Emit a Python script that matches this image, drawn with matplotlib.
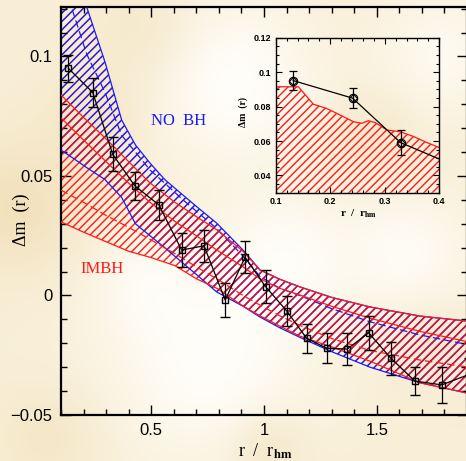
import numpy as np
import matplotlib
matplotlib.use("Agg")
import matplotlib.pyplot as plt
from matplotlib.ticker import MultipleLocator

plt.rcParams['mathtext.fontset'] = 'stix'
plt.rcParams['hatch.linewidth'] = 1.0

# ---------------- data ----------------
r_obs = [0.132, 0.241, 0.329, 0.427, 0.534, 0.635, 0.734, 0.828, 0.916, 1.007,
         1.100, 1.189, 1.278, 1.369, 1.464, 1.563, 1.669, 1.788, 1.910]
dm_obs = [0.0951, 0.0849, 0.0591, 0.0459, 0.0379, 0.0190, 0.0208, -0.0019, 0.0160, 0.0037,
          -0.0064, -0.0179, -0.0221, -0.0224, -0.0156, -0.0263, -0.0358, -0.0374, -0.0330]
dm_err = [0.0057, 0.0059, 0.0072, 0.0059, 0.0063, 0.0070, 0.0067, 0.0071, 0.0067, 0.0070,
          0.0063, 0.0061, 0.0063, 0.0067, 0.0071, 0.0070, 0.0059, 0.0075, 0.0070]

# NO BH model band (blue)
r_nobh = [0.10, 0.214, 0.295, 0.369, 0.43, 0.4945, 0.56, 0.641, 0.71, 0.790, 0.907, 0.982,
          1.07, 1.159, 1.30, 1.470, 1.691, 1.90]
nobh_hi = [0.153, 0.1207, 0.0977, 0.0734, 0.063, 0.0554, 0.0485, 0.0420, 0.0365, 0.0303, 0.0190, 0.0107,
           0.0068, 0.0036, -0.0008, -0.0048, -0.0086, -0.0107]
nobh_mid = [0.134, 0.101, 0.0850, 0.0670, 0.0600, 0.0525, 0.0470, 0.0400, 0.0345, 0.0280, 0.0165, 0.0080,
            0.0030, 0.0000, -0.0055, -0.0110, -0.0165, -0.0205]
nobh_lo = [0.0609, 0.0535, 0.0485, 0.0410, 0.0300, 0.0250, 0.0200, 0.0135, 0.0080, 0.0015, -0.0045, -0.0090,
           -0.0135, -0.0175, -0.0235, -0.0300, -0.0365, -0.0408]

# IMBH model band (red)
r_imbh = [0.10, 0.20, 0.30, 0.40, 0.4945, 0.605, 0.70, 0.791, 0.907, 0.982, 1.07, 1.159,
          1.30, 1.470, 1.691, 1.90]
imbh_hi = [0.0839, 0.0745, 0.0655, 0.0560, 0.0471, 0.0390, 0.0330, 0.0275, 0.0185, 0.0107, 0.0068, 0.0036,
           -0.0008, -0.0048, -0.0086, -0.0107]
imbh_in1 = [0.0743, 0.0650, 0.0560, 0.0470, 0.0390, 0.0310, 0.0250, 0.0190, 0.0120, 0.0070, 0.0030, 0.0002,
            -0.0045, -0.0095, -0.0150, -0.0193]
imbh_in2 = [0.0441, 0.0390, 0.0335, 0.0285, 0.0235, 0.0175, 0.0120, 0.0070, 0.0000, -0.0040, -0.0085, -0.0125,
            -0.0180, -0.0230, -0.0270, -0.0299]
imbh_lo = [0.0308, 0.0265, 0.0225, 0.0185, 0.0160, 0.0125, 0.0070, 0.0030, -0.0044, -0.0085, -0.0128, -0.0170,
           -0.0215, -0.0275, -0.0365, -0.0408]

# inset: finer IMBH model upper edge
r_ins = [0.10, 0.1416, 0.169, 0.1937, 0.2182, 0.2427, 0.258, 0.270, 0.2825, 0.304, 0.3284, 0.353, 0.3774, 0.40]
ins_hi = [0.0915, 0.0915, 0.0814, 0.0789, 0.0751, 0.0712, 0.0703, 0.0718, 0.0707, 0.0664, 0.0654, 0.0626, 0.0591, 0.0562]

main_xticks = [0.5, 1.0, 1.5]
main_xticklabels = ['0.5', '1', '1.5']
main_yticks = [-0.05, 0.0, 0.05, 0.1]
main_yticklabels = ['\u22120.05', '0', '0.05', '0.1']
ins_xticks = [0.1, 0.2, 0.3, 0.4]
ins_yticks = [0.04, 0.06, 0.08, 0.1, 0.12]
ins_yticklabels = ['0.04', '0.06', '0.08', '0.1', '0.12']

# ---------------- figure ----------------
W, H = 466, 461
fig = plt.figure(figsize=(W / 100, H / 100), dpi=100)

# background texture (smooth cream/white blobs)
bg = fig.add_axes([0, 0, 1, 1])
bg.set_axis_off()
yy, xx = np.mgrid[0:1:240j, 0:1:240j]
base = np.array([249, 239, 215]) / 255.0
light = np.array([255, 254, 250]) / 255.0
dark = np.array([241, 224, 186]) / 255.0
wl = np.zeros_like(xx)
for cx, cy, s, a in [(0.45, 0.78, 0.16, 1.0), (0.50, 0.18, 0.13, 1.0), (0.88, 0.55, 0.10, 0.8),
                     (0.95, 0.12, 0.10, 0.7), (0.62, 0.55, 0.10, 0.7), (0.30, 0.60, 0.08, 0.5)]:
    wl += a * np.exp(-((xx - cx) ** 2 + (yy - cy) ** 2) / (2 * s ** 2))
wd = np.zeros_like(xx)
for cx, cy, s, a in [(0.03, 0.45, 0.10, 0.9), (0.10, 0.95, 0.08, 0.5), (0.58, 0.98, 0.06, 0.5),
                     (0.80, 0.30, 0.07, 0.4), (0.30, 0.06, 0.08, 0.4), (0.92, 0.75, 0.06, 0.4),
                     (0.20, 0.25, 0.08, 0.5)]:
    wd += a * np.exp(-((xx - cx) ** 2 + (yy - cy) ** 2) / (2 * s ** 2))
wl = np.clip(wl, 0, 1)[..., None]
wd = np.clip(wd, 0, 1)[..., None]
img = base * (1 - wl) + light * wl
img = img * (1 - wd) + dark * wd
bg.imshow(img, origin='upper', extent=[0, 1, 0, 1], aspect='auto', interpolation='bilinear')
bg.set_xlim(0, 1)
bg.set_ylim(0, 1)

# main axes
L, R, T, B = 61, 467, 7, 415
ax = fig.add_axes([L / W, 1 - B / H, (R - L) / W, (B - T) / H])
ax.patch.set_alpha(0)
ax.set_xlim(0.1, 1.9)
ax.set_ylim(-0.05, 0.1207)

blue = '#1a1aff'
red = '#ff1a1a'
ax.fill_between(r_nobh, nobh_lo, nobh_hi, facecolor='none', edgecolor=blue, hatch='////', linewidth=0, zorder=1)
ax.fill_between(r_imbh, imbh_lo, imbh_hi, facecolor='none', edgecolor=red, hatch='////', linewidth=0, zorder=2)
ax.fill_between(r_nobh, nobh_lo, nobh_hi, facecolor='none', edgecolor=(0.35, 0.0, 0.45, 0.3), hatch='////',
                linewidth=0, zorder=2.5)
for yv, st in [(nobh_hi, '-'), (nobh_lo, '-'), (nobh_mid, (0, (6, 3)))]:
    ax.plot(r_nobh, yv, color=blue, lw=0.9, ls=st, zorder=3)
for yv, st in [(imbh_hi, '-'), (imbh_lo, '-'), (imbh_in1, '-'), (imbh_in2, (0, (6, 3)))]:
    ax.plot(r_imbh, yv, color=red, lw=0.9, ls=st, zorder=3)

ax.errorbar(r_obs, dm_obs, yerr=dm_err, fmt='s', ms=5, mfc='none', mec='black', mew=1.0,
            ecolor='black', elinewidth=0.9, capsize=3.5, capthick=0.9, color='black', lw=0.9, ls='-', zorder=5)

ax.set_xticks(main_xticks)
ax.set_xticklabels(main_xticklabels)
ax.set_yticks(main_yticks)
ax.set_yticklabels(main_yticklabels)
ax.xaxis.set_minor_locator(MultipleLocator(0.1))
ax.yaxis.set_minor_locator(MultipleLocator(0.01))
ax.tick_params(which='both', direction='in', top=True, right=True, width=1.0, colors='black')
ax.tick_params(which='major', length=7, labelsize=12, pad=6)
ax.tick_params(which='minor', length=4.5)
for lab in ax.get_xticklabels() + ax.get_yticklabels():
    lab.set_fontfamily('Liberation Sans')
for sp in ax.spines.values():
    sp.set_linewidth(1.6)

ax.text(0.62, 0.073, 'NO  BH', color=blue, fontsize=12, family='Liberation Serif', ha='center', va='center', zorder=6)
ax.text(0.28, 0.011, 'IMBH', color=red, fontsize=12, family='Liberation Serif', ha='center', va='center', zorder=6)

fig.text(265 / W, 1 - 451 / H, r'r  /  r$_{\mathbf{hm}}$', fontsize=13, family='Liberation Serif',
         ha='center', va='center')
fig.text(21 / W, 1 - 220 / H, '\u0394m  (r)', fontsize=13, family='Liberation Serif',
         ha='center', va='center', rotation=90)

# inset
iL, iR, iT, iB = 275.7, 439.3, 37.7, 192.7
ai = fig.add_axes([iL / W, 1 - iB / H, (iR - iL) / W, (iB - iT) / H])
ai.patch.set_alpha(0)
ai.set_xlim(0.1, 0.4)
ai.set_ylim(0.03, 0.12)
ai.fill_between(r_ins, 0.03, ins_hi, facecolor='none', edgecolor=red, hatch='////', linewidth=0, zorder=1)
ai.plot(r_ins, ins_hi, color=red, lw=0.9, zorder=2)
ai.errorbar(r_obs, dm_obs, yerr=dm_err, fmt='o', ms=6, mfc='none', mec='black', mew=0.9,
            ecolor='black', elinewidth=0.9, capsize=3, capthick=0.9, color='black', lw=0.9, ls='-', zorder=5)
ai.plot(r_obs[:3], dm_obs[:3], 'D', ms=4, mfc='none', mec='black', mew=0.7, zorder=6)
ai.set_xticks(ins_xticks)
ai.set_xticklabels([f'{v:g}' for v in ins_xticks])
ai.set_yticks(ins_yticks)
ai.set_yticklabels(ins_yticklabels)
ai.xaxis.set_minor_locator(MultipleLocator(0.02))
ai.yaxis.set_minor_locator(MultipleLocator(0.005))
ai.tick_params(which='both', direction='in', top=True, right=True, width=0.8)
ai.tick_params(which='major', length=4, labelsize=6.5, pad=3)
ai.tick_params(which='minor', length=2)
for lab in ai.get_xticklabels() + ai.get_yticklabels():
    lab.set_fontfamily('Liberation Sans')
    lab.set_fontweight('bold')
for sp in ai.spines.values():
    sp.set_linewidth(1.0)
fig.text(358 / W, 1 - 214 / H, r'r  /  r$_{\mathbf{hm}}$', fontsize=8, family='Liberation Serif',
         weight='bold', ha='center', va='center')
fig.text(243 / W, 1 - 112 / H, '\u0394m  (r)', fontsize=7, family='Liberation Serif', weight='bold',
         ha='center', va='center', rotation=90)

fig.savefig('out.png', dpi=100)
